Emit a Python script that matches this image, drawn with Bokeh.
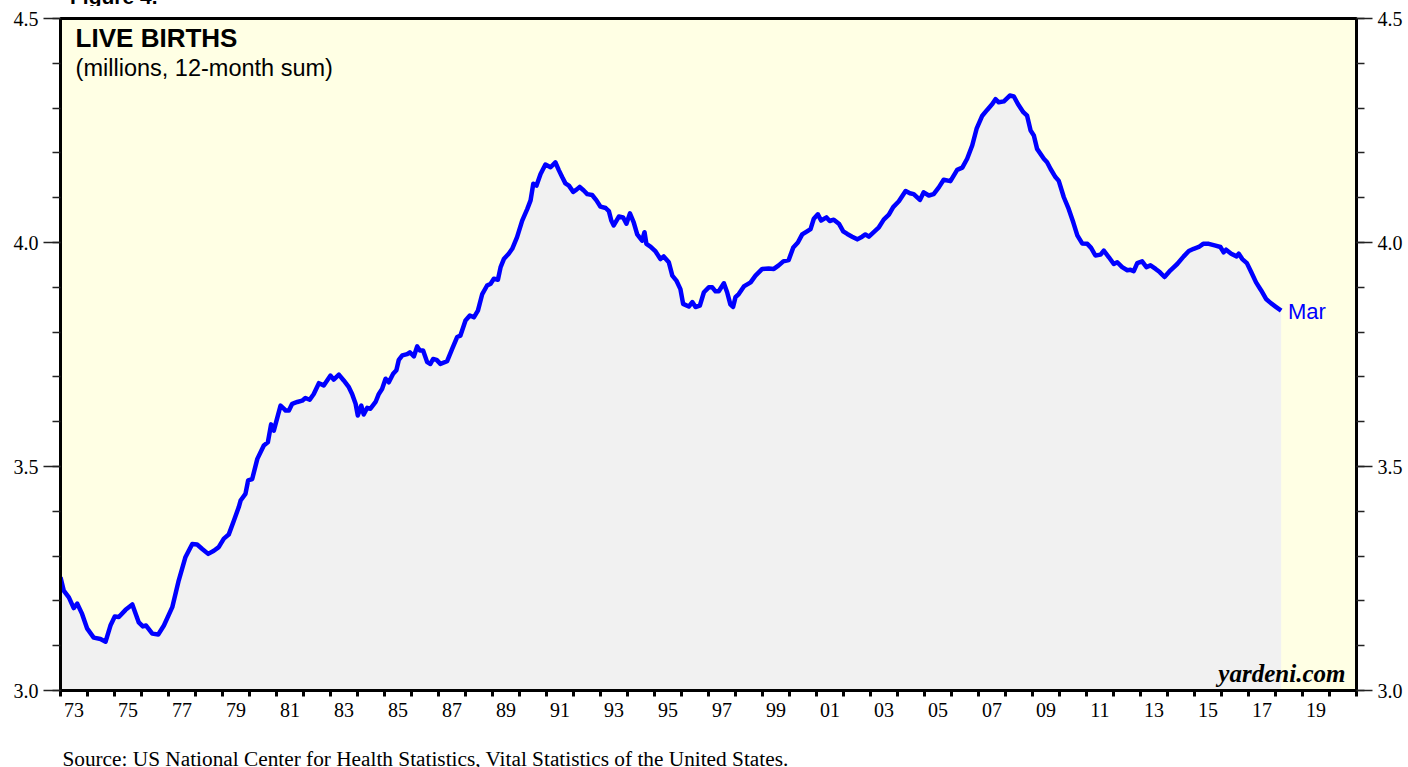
from bokeh.plotting import figure
from bokeh.layouts import column
from bokeh.models import (Range1d, LinearAxis, FixedTicker, CustomJSTickFormatter,
                          PrintfTickFormatter, Label, Div)
from bokeh.embed import file_html
from bokeh.resources import INLINE

# ---------------- data ----------------
years = [
    1973.00, 1973.12, 1973.31, 1973.49, 1973.62, 1973.80, 1973.99, 1974.23, 1974.48, 1974.67,
    1974.85, 1975.01, 1975.16, 1975.41, 1975.66, 1975.90, 1976.05, 1976.17, 1976.40, 1976.62,
    1976.83, 1977.14, 1977.38, 1977.63, 1977.88, 1978.06, 1978.25, 1978.47, 1978.68, 1978.86,
    1979.05, 1979.23, 1979.42, 1979.60, 1979.67, 1979.85, 1979.95, 1980.10, 1980.29, 1980.53,
    1980.68, 1980.80, 1980.90, 1981.15, 1981.31, 1981.33, 1981.46, 1981.58, 1981.77, 1981.95,
    1982.07, 1982.23, 1982.38, 1982.57, 1982.75, 1983.00, 1983.12, 1983.31, 1983.49, 1983.68,
    1983.80, 1983.93, 1984.01, 1984.14, 1984.23, 1984.36, 1984.48, 1984.67, 1984.79, 1984.91,
    1985.04, 1985.16, 1985.32, 1985.44, 1985.53, 1985.66, 1985.84, 1985.94, 1986.09, 1986.21,
    1986.31, 1986.43, 1986.58, 1986.70, 1986.80, 1986.93, 1987.07, 1987.32, 1987.51, 1987.69,
    1987.81, 1988.00, 1988.16, 1988.31, 1988.46, 1988.62, 1988.80, 1988.93, 1989.05, 1989.20,
    1989.30, 1989.42, 1989.60, 1989.73, 1989.91, 1990.10, 1990.29, 1990.41, 1990.51, 1990.63,
    1990.78, 1990.96, 1991.15, 1991.33, 1991.46, 1991.58, 1991.70, 1991.83, 1991.99, 1992.11,
    1992.23, 1992.38, 1992.51, 1992.69, 1992.85, 1993.00, 1993.19, 1993.31, 1993.40, 1993.49,
    1993.68, 1993.84, 1993.96, 1994.09, 1994.23, 1994.36, 1994.54, 1994.63, 1994.70, 1994.85,
    1995.04, 1995.22, 1995.34, 1995.53, 1995.66, 1995.81, 1995.96, 1996.06, 1996.27, 1996.40,
    1996.52, 1996.68, 1996.83, 1997.01, 1997.14, 1997.26, 1997.38, 1997.57, 1997.69, 1997.81,
    1997.91, 1998.00, 1998.12, 1998.31, 1998.56, 1998.74, 1998.99, 1999.23, 1999.42, 1999.60,
    1999.77, 1999.97, 2000.14, 2000.31, 2000.47, 2000.65, 2000.78, 2000.90, 2001.05, 2001.17,
    2001.37, 2001.49, 2001.64, 2001.83, 2001.99, 2002.14, 2002.32, 2002.51, 2002.69, 2002.81,
    2002.94, 2003.12, 2003.31, 2003.49, 2003.68, 2003.84, 2004.05, 2004.30, 2004.46, 2004.60,
    2004.83, 2004.97, 2005.16, 2005.34, 2005.53, 2005.71, 2005.96, 2006.21, 2006.40, 2006.58,
    2006.77, 2006.93, 2007.14, 2007.32, 2007.51, 2007.63, 2007.75, 2007.94, 2008.16, 2008.31,
    2008.46, 2008.66, 2008.80, 2008.93, 2009.05, 2009.17, 2009.42, 2009.54, 2009.67, 2009.85,
    2009.97, 2010.16, 2010.34, 2010.51, 2010.66, 2010.84, 2011.03, 2011.17, 2011.33, 2011.52,
    2011.64, 2011.83, 2012.01, 2012.14, 2012.32, 2012.51, 2012.63, 2012.75, 2012.88, 2013.06,
    2013.22, 2013.37, 2013.56, 2013.71, 2013.89, 2014.11, 2014.36, 2014.60, 2014.79, 2014.97,
    2015.16, 2015.32, 2015.53, 2015.78, 2015.96, 2016.08, 2016.17, 2016.36, 2016.56, 2016.64,
    2016.77, 2016.94, 2017.10, 2017.28, 2017.47, 2017.65, 2017.84, 2018.00, 2018.21,
]
births = [
    3.253, 3.223, 3.208, 3.184, 3.194, 3.171, 3.138, 3.118, 3.115, 3.109,
    3.145, 3.165, 3.164, 3.180, 3.192, 3.152, 3.143, 3.145, 3.127, 3.125,
    3.145, 3.186, 3.246, 3.298, 3.327, 3.326, 3.316, 3.305, 3.312, 3.320,
    3.339, 3.348, 3.379, 3.409, 3.424, 3.439, 3.469, 3.472, 3.517, 3.547,
    3.554, 3.594, 3.580, 3.636, 3.627, 3.625, 3.625, 3.640, 3.644, 3.647,
    3.653, 3.649, 3.662, 3.686, 3.681, 3.703, 3.694, 3.705, 3.692, 3.677,
    3.662, 3.640, 3.614, 3.636, 3.616, 3.631, 3.629, 3.644, 3.662, 3.673,
    3.696, 3.688, 3.707, 3.715, 3.738, 3.748, 3.751, 3.755, 3.746, 3.768,
    3.759, 3.759, 3.733, 3.729, 3.740, 3.738, 3.729, 3.735, 3.763, 3.789,
    3.792, 3.826, 3.837, 3.833, 3.848, 3.885, 3.904, 3.908, 3.919, 3.917,
    3.945, 3.963, 3.975, 3.986, 4.012, 4.049, 4.075, 4.094, 4.131, 4.127,
    4.153, 4.174, 4.168, 4.179, 4.161, 4.146, 4.132, 4.127, 4.113, 4.118,
    4.124, 4.116, 4.108, 4.106, 4.094, 4.080, 4.077, 4.070, 4.049, 4.038,
    4.058, 4.056, 4.042, 4.065, 4.045, 4.018, 4.004, 4.023, 3.997, 3.991,
    3.980, 3.963, 3.969, 3.956, 3.926, 3.915, 3.896, 3.863, 3.857, 3.867,
    3.856, 3.859, 3.889, 3.900, 3.900, 3.891, 3.891, 3.909, 3.889, 3.862,
    3.856, 3.878, 3.885, 3.902, 3.911, 3.926, 3.941, 3.942, 3.941, 3.949,
    3.958, 3.961, 3.989, 4.000, 4.018, 4.025, 4.030, 4.053, 4.063, 4.049,
    4.056, 4.048, 4.051, 4.042, 4.025, 4.019, 4.013, 4.007, 4.013, 4.018,
    4.013, 4.023, 4.034, 4.051, 4.062, 4.079, 4.092, 4.115, 4.110, 4.108,
    4.095, 4.112, 4.105, 4.108, 4.123, 4.140, 4.137, 4.162, 4.167, 4.187,
    4.217, 4.254, 4.283, 4.296, 4.309, 4.320, 4.313, 4.315, 4.328, 4.326,
    4.309, 4.291, 4.283, 4.250, 4.239, 4.209, 4.187, 4.179, 4.164, 4.146,
    4.138, 4.101, 4.075, 4.045, 4.016, 3.998, 3.997, 3.988, 3.971, 3.973,
    3.982, 3.967, 3.952, 3.956, 3.945, 3.938, 3.939, 3.936, 3.954, 3.958,
    3.945, 3.949, 3.941, 3.934, 3.923, 3.938, 3.952, 3.969, 3.981, 3.986,
    3.990, 3.997, 3.997, 3.993, 3.990, 3.978, 3.984, 3.975, 3.969, 3.975,
    3.963, 3.954, 3.934, 3.911, 3.893, 3.874, 3.864, 3.857, 3.848,
]

year_ticks = list(range(1973, 2022))                  # a tick for every year
label_years = [y + 0.5 for y in range(1973, 2020, 2)]  # labels centred in odd years
y_labels = [3.0, 3.5, 4.0, 4.5]
y_small = [round(3.0 + 0.1 * i, 1) for i in range(16)]

figure_text = "Figure 4."
title_text = "LIVE BIRTHS"
subtitle_text = "(millions, 12-month sum)"
last_label = "Mar"
brand = "yardeni.com"
source_text = "Source: US National Center for Health Statistics, Vital Statistics of the United States."

SERIF = "Liberation Serif"
SANS = "Liberation Sans"
W = 1408
TOP_H, BOTTOM_H = 6, 22
MAIN_H = 767 - TOP_H - BOTTOM_H
X0, X1 = 1973, 2021

# ---------------- top strip: the cut-off "Figure 4." ----------------
top_div = Div(
    text=("<div style=\"position:relative; top:-14px; left:70px; "
          "font-family:'Liberation Sans'; font-weight:bold; font-size:21px; "
          "line-height:21px; color:black; white-space:nowrap;\">"
          + figure_text + "</div>"),
    width=W, height=TOP_H, margin=0,
    styles={"overflow": "hidden"})

# ---------------- main chart ----------------
p = figure(width=W, height=MAIN_H,
           x_range=Range1d(X0, X1), y_range=Range1d(3.0, 4.5),
           output_backend="svg", toolbar_location=None,
           min_border_left=60, min_border_right=52,
           min_border_top=12, min_border_bottom=MAIN_H - 12 - 672,
           background_fill_color="#FFFFE4", border_fill_color="white")
p.xgrid.visible = False
p.ygrid.visible = False
p.outline_line_color = "black"
p.outline_line_width = 3

p.varea(x=years, y1=3.0, y2=births, fill_color="#F1F1F1")
p.line(years, births, line_color="#0000FF", line_width=4.5, line_join="round")

xa = p.xaxis[0]
xa.ticker = FixedTicker(ticks=label_years, minor_ticks=year_ticks)
xa.formatter = CustomJSTickFormatter(code="return String(Math.floor(tick) % 100).padStart(2, '0');")
xa.major_tick_out = 0
xa.major_tick_in = 0
xa.minor_tick_out = 6
xa.minor_tick_in = 0
xa.minor_tick_line_width = 3
xa.minor_tick_line_color = "black"
xa.axis_line_width = 3
xa.axis_line_color = "black"
xa.major_label_standoff = 6
xa.major_label_text_font = SERIF
xa.major_label_text_font_size = "20px"
xa.major_label_text_color = "black"


def style_y(ax, tick_out, standoff):
    ax.ticker = FixedTicker(ticks=y_labels, minor_ticks=y_small)
    ax.formatter = PrintfTickFormatter(format="%.1f")
    ax.major_tick_out = tick_out
    ax.major_tick_in = 0
    ax.minor_tick_out = 8
    ax.minor_tick_in = 0
    ax.major_tick_line_width = 1.5
    ax.minor_tick_line_width = 1.5
    ax.major_tick_line_color = "#222222"
    ax.minor_tick_line_color = "#222222"
    ax.axis_line_width = 3
    ax.axis_line_color = "black"
    ax.major_label_standoff = standoff
    ax.major_label_text_font = SERIF
    ax.major_label_text_font_size = "20px"
    ax.major_label_text_color = "black"


style_y(p.yaxis[0], 17, 5)
ry = LinearAxis()
style_y(ry, 16, 5)
p.add_layout(ry, "right")

p.add_layout(Label(x=1973.56, y=4.456, text=title_text, text_font=SANS,
                   text_font_style="bold", text_font_size="26px",
                   text_color="black", text_baseline="alphabetic"))
p.add_layout(Label(x=1973.56, y=4.390, text=subtitle_text, text_font=SANS,
                   text_font_size="23.5px", text_color="black",
                   text_baseline="alphabetic"))
p.add_layout(Label(x=years[-1] + 0.25, y=3.845, text=last_label, text_font=SANS,
                   text_font_size="22px", text_color="#0000FF",
                   text_baseline="alphabetic"))
p.add_layout(Label(x=2020.59, y=3.038, text=brand, text_font=SERIF,
                   text_font_style="bold italic", text_font_size="25px",
                   text_color="black", text_align="right",
                   text_baseline="alphabetic"))

# ---------------- bottom strip: source line ----------------
# the column aligns this strip's frame with the main chart's frame
p_bottom = figure(width=W, height=BOTTOM_H, x_range=Range1d(X0, X1),
                  y_range=Range1d(BOTTOM_H, 0),
                  output_backend="svg", toolbar_location=None,
                  x_axis_location=None, y_axis_location=None,
                  min_border=0, min_border_left=0, min_border_right=0,
                  min_border_top=0, min_border_bottom=0,
                  outline_line_color=None, background_fill_color="white",
                  border_fill_color="white")
p_bottom.grid.visible = False
p_bottom.add_layout(Label(x=1973.07, y=13.5, text=source_text, text_font=SERIF,
                          text_font_size="21.3px", text_color="black",
                          text_baseline="alphabetic"))

layout = column(top_div, p, p_bottom, spacing=0)
open("out.html", "w").write(file_html(layout, INLINE))
